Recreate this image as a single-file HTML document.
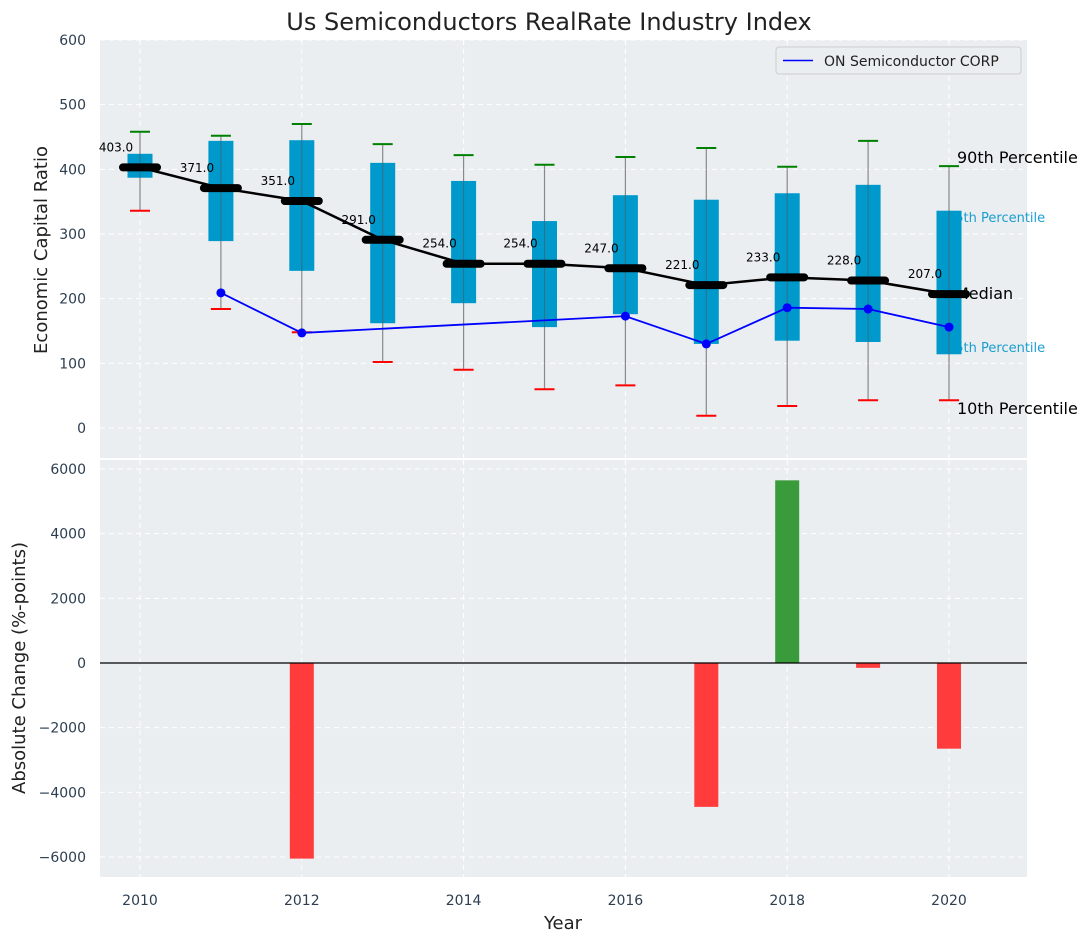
<!DOCTYPE html>
<html><head><meta charset="utf-8"><style>
body{margin:0;background:#fff;font-family:"Liberation Sans","DejaVu Sans",sans-serif}
svg text{font-family:"DejaVu Sans","Liberation Sans",sans-serif}
</style></head><body>
<svg id="c" width="1092" height="942" xmlns="http://www.w3.org/2000/svg"></svg>
<script>
const years=[2010,2011,2012,2013,2014,2015,2016,2017,2018,2019,2020];
const medians=[403,371,351,291,254,254,247,221,233,228,207];
const q1=[387,289,243,162,193,156,176,130,135,133,114];
const q3=[424,444,445,410,382,320,360,353,363,376,336];
const p10=[336,184,148,102,90,60,66,19,34,43,43];
const p90=[458,452,470,439,422,407,419,433,404,444,405];
const onYears=[2011,2012,2016,2017,2018,2019,2020];
const onValues=[209,147,173,130,186,184,156];
const changeYears=[2012,2017,2018,2019,2020];
const changeValues=[-6050,-4450,5650,-150,-2650];
const topTicks=[0,100,200,300,400,500,600];
const botTicks=[-6000,-4000,-2000,0,2000,4000,6000];
const xTicks=[2010,2012,2014,2016,2018,2020];

const svg=document.getElementById('c');
const NS='http://www.w3.org/2000/svg';
function mk(t,a,txt){const e=document.createElementNS(NS,t);for(const k in a)e.setAttribute(k,a[k]);if(txt!==undefined)e.textContent=txt;svg.appendChild(e);return e;}
const X=y=>140+(y-2010)*80.9;
const YT=v=>428-v*0.6467;
const YB=v=>663-v*0.03233;
const L=100,R=1027;
const TC='#2c3e50';

let e=mk('rect',{x:L,y:40,width:R-L,height:418,fill:'#eaeef0'});


e=mk('rect',{x:L,y:460,width:R-L,height:417,fill:'#eaeef0'});



xTicks.forEach(t=>{
  mk('line',{x1:X(t),x2:X(t),y1:40,y2:458,stroke:'#fff','stroke-dasharray':'5,4','stroke-width':1});
  mk('line',{x1:X(t),x2:X(t),y1:460,y2:877,stroke:'#fff','stroke-dasharray':'5,4','stroke-width':1});
  e=mk('text',{x:X(t),y:905,'text-anchor':'middle','font-size':14,fill:TC},t);
  
  
});
topTicks.forEach(t=>{
  mk('line',{x1:L,x2:R,y1:YT(t),y2:YT(t),stroke:'#fff','stroke-dasharray':'5,4'});
  e=mk('text',{x:86,y:YT(t)+5,'text-anchor':'end','font-size':14,fill:TC},t);
  
  
});
botTicks.forEach(t=>{
  mk('line',{x1:L,x2:R,y1:YB(t),y2:YB(t),stroke:'#fff','stroke-dasharray':'5,4'});
  e=mk('text',{x:86,y:YB(t)+5,'text-anchor':'end','font-size':14,fill:TC},(t<0?'\u2212'+(-t):t));
  
  
});

const ann=[['90th Percentile',163,16,'#000',957],['75th Percentile',222,13,'#1a9ed0',947],['Median',299,16,'#000',955],['25th Percentile',352,13,'#1a9ed0',947],['10th Percentile',414,16,'#000',957]];
ann.forEach(a=>{
  e=mk('text',{x:a[4],y:a[1],'font-size':a[2],fill:a[3]},a[0]);
  
  
});

years.forEach((y,i)=>{
  const x=X(y);
  e=mk('line',{x1:x,x2:x,y1:YT(p90[i]),y2:YT(p10[i]),stroke:'#888','stroke-width':1.2});
  
  
  e=mk('rect',{x:x-12.5,y:YT(q3[i]),width:25,height:YT(q1[i])-YT(q3[i]),fill:'#0099cc'});
  
  
  mk('line',{x1:x,x2:x,y1:YT(q3[i]),y2:YT(q1[i]),stroke:'#555','stroke-width':1,opacity:0.6});
  e=mk('line',{x1:x-10,x2:x+10,y1:YT(p90[i]),y2:YT(p90[i]),stroke:'green','stroke-width':2});
  
  
  e=mk('line',{x1:x-10,x2:x+10,y1:YT(p10[i]),y2:YT(p10[i]),stroke:'red','stroke-width':2});
  
  
});
e=mk('polyline',{points:years.map((y,i)=>X(y)+','+YT(medians[i])).join(' '),fill:'none',stroke:'#000','stroke-width':2.5});


years.forEach((y,i)=>{
  e=mk('line',{x1:X(y)-17,x2:X(y)+17,y1:YT(medians[i]),y2:YT(medians[i]),stroke:'#000','stroke-width':8,'stroke-linecap':'round'});
  
  
  e=mk('text',{x:X(y)-24,y:YT(medians[i])-16,'text-anchor':'middle','font-size':12,fill:'#000'},medians[i].toFixed(1));
  
  
});
e=mk('polyline',{points:onYears.map((y,i)=>X(y)+','+YT(onValues[i])).join(' '),fill:'none',stroke:'#0000ff','stroke-width':1.8});


onYears.forEach((y,i)=>{
  e=mk('circle',{cx:X(y),cy:YT(onValues[i]),r:4.5,fill:'#0000ff'});
  
  
});

changeYears.forEach((y,i)=>{
  const v=changeValues[i];
  const y0=YB(Math.max(v,0)),h=Math.abs(YB(v)-YB(0));
  e=mk('rect',{x:X(y)-12,y:y0,width:24,height:h,fill:v>=0?'#3a9b3a':'#ff3b3b'});
  
  
});
mk('line',{x1:L,x2:R,y1:YB(0),y2:YB(0),stroke:'#000','stroke-width':1.2});

e=mk('rect',{x:776,y:47,width:245,height:27,fill:'#eaeef0',stroke:'#ccc',rx:3});


mk('line',{x1:783,x2:813,y1:60.5,y2:60.5,stroke:'#0000ff','stroke-width':1.6});
e=mk('text',{x:824,y:66,'font-size':14,fill:'#222'},'ON Semiconductor CORP');



e=mk('text',{x:549,y:30,'text-anchor':'middle','font-size':24,fill:'#222'},'Us Semiconductors RealRate Industry Index');


e=mk('text',{x:563,y:929,'text-anchor':'middle','font-size':18,fill:'#222'},'Year');


e=mk('text',{x:0,y:0,'text-anchor':'middle','font-size':18,fill:'#222',transform:'translate(47,250) rotate(-90)'},'Economic Capital Ratio');


e=mk('text',{x:0,y:0,'text-anchor':'middle','font-size':18,fill:'#222',transform:'translate(25,668) rotate(-90)'},'Absolute Change (%-points)');


</script>
</body></html>
